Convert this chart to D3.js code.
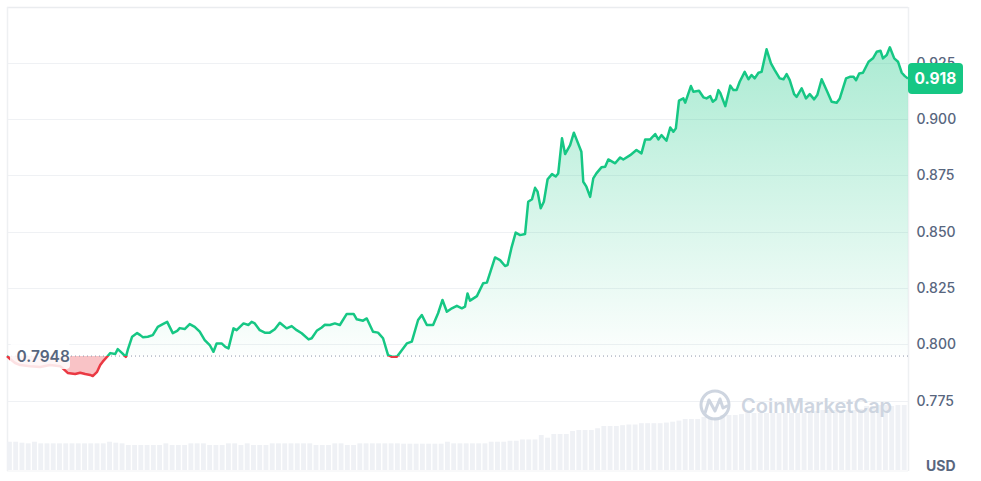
<!DOCTYPE html>
<html>
<head>
<meta charset="utf-8">
<script src="https://cdn.jsdelivr.net/npm/d3@7"></script>
<style>
  html, body { margin: 0; padding: 0; background: #fff; }
  svg { display: block; font-family: Inter, "Noto Sans", sans-serif; }
</style>
</head>
<body>
<svg id="chart" width="981" height="481"></svg>
<script>
// ---- data (minutes since start, price in USD) ----
const times = [
  0,5,13,21,37,53,69,85,94,97,
  109,117,125,133,137,144,149,153,160,165,
  173,177,184,190,193,200,208,213,217,225,
  233,241,249,256,261,265,272,276,284,292,
  300,308,316,324,330,335,343,349,354,362,
  367,378,386,391,396,404,412,420,428,436,
  447,455,463,471,482,487,495,503,508,516,
  524,532,543,554,559,569,575,585,593,601,
  609,615,623,628,639,647,657,663,671,681,
  689,696,703,711,719,727,732,736,740,751,
  761,767,780,788,796,800,806,813,820,828,
  833,839,844,848,853,858,864,871,877,881,
  887,892,900,906,918,921,926,932,937,942,
  950,956,961,972,980,985,996,1006,1014,1020,
  1028,1036,1041,1046,1054,1060,1065,1069,1074,1081,
  1084,1093,1097,1106,1113,1118,1124,1128,1133,1137,
  1140,1148,1156,1161,1166,1171,1179,1185,1190,1195,
  1201,1206,1214,1221,1227,1235,1241,1246,1251,1258,
  1262,1270,1277,1283,1290,1295,1302,1311,1318,1326,
  1331,1341,1347,1353,1357,1362,1368,1377,1384,1390,
  1396,1400,1406,1411,1418,1424,1430,1435,1440
];
const prices = [
  0.7948,0.7935,0.7917,0.7908,0.7903,0.7899,0.7908,0.7903,0.7881,0.7873,
  0.7868,0.7874,0.7868,0.7864,0.7859,0.7878,0.7908,0.7923,0.7945,0.7961,
  0.7957,0.7979,0.7961,0.7944,0.7975,0.8034,0.8050,0.8041,0.8032,0.8034,
  0.8041,0.8078,0.8090,0.8100,0.8072,0.8050,0.8060,0.8072,0.8068,0.8090,
  0.8078,0.8056,0.8019,0.7997,0.7967,0.8004,0.8004,0.7989,0.7982,0.8071,
  0.8063,0.8093,0.8086,0.8100,0.8093,0.8063,0.8052,0.8052,0.8067,0.8096,
  0.8071,0.8081,0.8063,0.8049,0.8022,0.8027,0.8060,0.8075,0.8087,0.8086,
  0.8093,0.8086,0.8135,0.8135,0.8111,0.8105,0.8115,0.8056,0.8052,0.8027,
  0.7952,0.7945,0.7945,0.7963,0.8004,0.8012,0.8108,0.8130,0.8086,0.8086,
  0.8138,0.8197,0.8145,0.8160,0.8171,0.8160,0.8167,0.8226,0.8194,0.8214,
  0.8271,0.8274,0.8386,0.8374,0.8348,0.8352,0.8426,0.8496,0.8485,0.8490,
  0.8633,0.8644,0.8695,0.8678,0.8604,0.8633,0.8733,0.8756,0.8745,0.8759,
  0.8915,0.8845,0.8885,0.8940,0.8855,0.8722,0.8700,0.8655,0.8737,0.8759,
  0.8786,0.8789,0.8821,0.8804,0.8830,0.8821,0.8840,0.8863,0.8848,0.8910,
  0.8910,0.8934,0.8910,0.8929,0.8904,0.8963,0.8944,0.8959,0.9082,0.9092,
  0.9073,0.9147,0.9122,0.9126,0.9097,0.9092,0.9102,0.9077,0.9088,0.9129,
  0.9116,0.9058,0.9149,0.9129,0.9129,0.9166,0.9210,0.9177,0.9196,0.9181,
  0.9206,0.9210,0.9310,0.9248,0.9218,0.9181,0.9177,0.9200,0.9173,0.9111,
  0.9099,0.9137,0.9092,0.9111,0.9088,0.9107,0.9177,0.9122,0.9077,0.9073,
  0.9092,0.9181,0.9188,0.9188,0.9173,0.9203,0.9206,0.9255,0.9270,0.9299,
  0.9304,0.9270,0.9285,0.9319,0.9270,0.9255,0.9206,0.9191,0.9180
];
// 24h volume, one bar per 10 minutes (millions USD, estimated)
const volumeStep = 10;
const volumes = [
  43.5,43.5,42,41,43.5,41,41,41,41,41,41,41,41,41,41,41,
  43.5,42,41,38.5,38.5,38.5,38.5,38.5,38.5,41,38.5,38.5,38.5,41,
  41,41,38.5,38.5,38.5,41,41,38.5,41,38.5,38.5,38.5,41,41,41,41,
  41,41,41,38.5,38.5,38.5,41,41,38.5,38.5,41,41,41,41,41,41,41,
  40.5,40.5,40.5,40.5,40.5,40.5,40.5,43.5,41,41,41,41,41,41,
  43.5,43.5,43.5,45,45,47,47,47,53.8,49.7,55.4,55.4,55.4,60,61.5,
  61.5,61.5,64.2,67.7,67.7,67.7,69,70,70,72,72,72,72,73,74.3,
  76,78.5,78.5,78.5,81.5,81.5,81.5,84.6,84.6,84.6,86,87.7,
  87.7,87.7,87.7,87.7,87.7,87.7,87.7,87.7,87.7,
  90.8,90.8,92.3,92.3,92.3,92.3,92.3,92.3,94,98.5,98.5,100,
  100,98.5,100,100
];
const openPrice = 0.7948;
const lastPrice = 0.918;
const tickValues = [0.775, 0.800, 0.825, 0.850, 0.875, 0.900, 0.925];

// ---- chart ----
const GREEN = "#16c784", RED = "#ea3943", TEXT = "#58667e";
const svg = d3.select("#chart");
const x = d3.scaleLinear().domain([0, 1440]).range([7, 908]);
const y = d3.scaleLinear().domain([0.7442, 0.9498]).range([470, 7]);
const vy = d3.scaleLinear().domain([0, 100]).range([470, 405]);
const by = y(openPrice);
const pts = times.map((t, i) => [t, prices[i]]);

const defs = svg.append("defs");
const gg = defs.append("linearGradient").attr("id", "gGreen")
  .attr("gradientUnits", "userSpaceOnUse")
  .attr("x1", 0).attr("x2", 0).attr("y1", y(d3.max(prices))).attr("y2", by);
gg.append("stop").attr("offset", 0).attr("stop-color", GREEN).attr("stop-opacity", 0.36);
gg.append("stop").attr("offset", 1).attr("stop-color", GREEN).attr("stop-opacity", 0.01);

defs.append("clipPath").attr("id", "clipUp").append("rect")
  .attr("x", 0).attr("y", 0).attr("width", 981).attr("height", by);
defs.append("clipPath").attr("id", "clipDown").append("rect")
  .attr("x", 0).attr("y", by).attr("width", 981).attr("height", 481 - by);

// gridlines
svg.append("g").selectAll("line").data(tickValues).join("line")
  .attr("x1", 7).attr("x2", 908)
  .attr("y1", d => Math.round(y(d)) + 0.5).attr("y2", d => Math.round(y(d)) + 0.5)
  .attr("stroke", "#eff1f4").attr("stroke-width", 1);

// frame
svg.append("line").attr("x1", 7).attr("x2", 908).attr("y1", 7.5).attr("y2", 7.5)
  .attr("stroke", "#eaecef").attr("stroke-width", 1.5);
svg.append("line").attr("x1", 7.5).attr("x2", 7.5).attr("y1", 7).attr("y2", 471)
  .attr("stroke", "#eef0f2").attr("stroke-width", 1.5);
svg.append("line").attr("x1", 908.5).attr("x2", 908.5).attr("y1", 7).attr("y2", 471)
  .attr("stroke", "#eef0f2").attr("stroke-width", 1.5);
svg.append("line").attr("x1", 7).attr("x2", 908).attr("y1", 471).attr("y2", 471)
  .attr("stroke", "#f2f3f5").attr("stroke-width", 1);

// volume bars
const bw = x(volumeStep) - x(0);
svg.append("g").selectAll("rect").data(volumes).join("rect")
  .attr("x", (d, i) => x(i * volumeStep))
  .attr("width", bw - 1.4)
  .attr("y", d => vy(d))
  .attr("height", d => vy(0) - vy(d))
  .attr("fill", "#eff1f5");

// watermark
const wm = svg.append("g").attr("opacity", 0.9);
wm.append("circle").attr("cx", 715).attr("cy", 405).attr("r", 14)
  .attr("fill", "none").attr("stroke", "#c9d1dd").attr("stroke-width", 3);
wm.append("path")
  .attr("d", "M705,413 L709,400 L715,411 L720,399 L723,408 L727,406")
  .attr("fill", "none").attr("stroke", "#c9d1dd").attr("stroke-width", 3)
  .attr("stroke-linejoin", "round").attr("stroke-linecap", "round");
wm.append("text").attr("x", 741).attr("y", 412.5).text("CoinMarketCap")
  .attr("font-size", 20).attr("font-weight", 600).attr("fill", "#c9d1dd");

// areas
const area = d3.area().x(d => x(d[0])).y0(by).y1(d => y(d[1]));
svg.append("path").datum(pts).attr("d", area)
  .attr("fill", "url(#gGreen)").attr("clip-path", "url(#clipUp)");
svg.append("path").datum(pts).attr("d", area)
  .attr("fill", RED).attr("fill-opacity", 0.3).attr("clip-path", "url(#clipDown)");

// baseline dotted
svg.append("line").attr("x1", 7).attr("x2", 908).attr("y1", by).attr("y2", by)
  .attr("stroke", "#8e98aa").attr("stroke-width", 1).attr("stroke-dasharray", "1,3");

// price line
const line = d3.line().x(d => x(d[0])).y(d => y(d[1]));
svg.append("path").datum(pts).attr("d", line)
  .attr("fill", "none").attr("stroke", GREEN).attr("stroke-width", 2.5)
  .attr("stroke-linejoin", "round").attr("clip-path", "url(#clipUp)");
svg.append("path").datum(pts).attr("d", line)
  .attr("fill", "none").attr("stroke", RED).attr("stroke-width", 2.5)
  .attr("stroke-linejoin", "round").attr("clip-path", "url(#clipDown)");

// open price label
svg.append("rect").attr("x", 10).attr("y", by - 13).attr("width", 60).attr("height", 26)
  .attr("rx", 4).attr("fill", "#fff").attr("fill-opacity", 0.85);
svg.append("text").attr("x", 16.5).attr("y", by + 5.5).text(d3.format(".4f")(openPrice))
  .attr("font-size", 15.5).attr("font-weight", 600).attr("fill", TEXT);

// right axis
const axis = d3.axisRight(y).tickValues(tickValues).tickFormat(d3.format(".3f"))
  .tickSize(0).tickPadding(0);
const ag = svg.append("g").attr("transform", "translate(916.5,0)").call(axis);
ag.select(".domain").remove();
ag.selectAll("text").attr("font-size", 14).attr("font-weight", 500)
  .attr("fill", TEXT).attr("font-family", "Inter, 'Noto Sans', sans-serif");

// last price tag
svg.append("rect").attr("x", 908).attr("y", y(lastPrice) - 15.5).attr("width", 55).attr("height", 31)
  .attr("rx", 4).attr("fill", GREEN);
svg.append("text").attr("x", 935.5).attr("y", y(lastPrice) + 5.5).attr("text-anchor", "middle")
  .text(d3.format(".3f")(lastPrice))
  .attr("font-size", 15.5).attr("font-weight", 700).attr("fill", "#fff");

// currency label
svg.append("text").attr("x", 926).attr("y", 471).text("USD")
  .attr("font-size", 14).attr("font-weight", 700).attr("fill", TEXT);
</script>
</body>
</html>
